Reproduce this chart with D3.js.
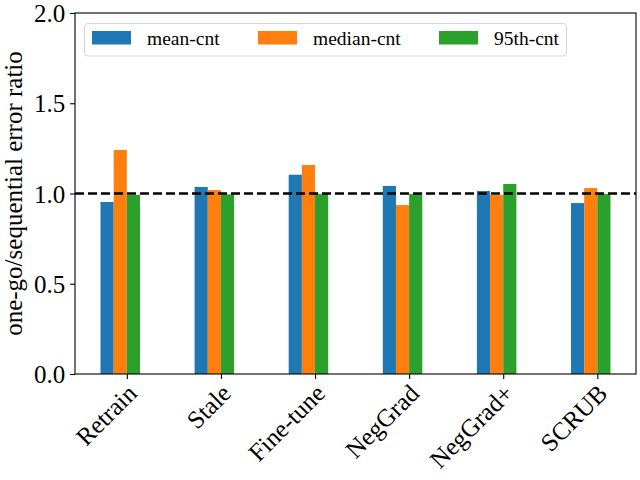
<!DOCTYPE html>
<html>
<head>
<meta charset="utf-8">
<script src="https://cdn.jsdelivr.net/npm/d3@7"></script>
<style>
  body { margin: 0; background: #fff; }
</style>
</head>
<body>
<svg id="chart" width="640" height="480"></svg>
<script>
const methods = ['Retrain', 'Stale', 'Fine-tune', 'NegGrad', 'NegGrad+', 'SCRUB']
const seriesNames = ['mean-cnt', 'median-cnt', '95th-cnt']
const meanCnt = [0.953, 1.036, 1.104, 1.042, 1.014, 0.947]
const medianCnt = [1.241, 1.019, 1.158, 0.936, 0.992, 1.030]
const p95Cnt = [0.992, 0.995, 0.997, 0.997, 1.053, 0.997]
const yTicks = [0, 0.5, 1.0, 1.5, 2.0]
const refLine = 1.0

const colors = ['#1f77b4', '#ff7f0e', '#2ca02c']
const series = [meanCnt, medianCnt, p95Cnt]
const serif = '"Liberation Serif", "Times New Roman", Times, serif'

const plotLeft = 75, plotRight = 636, plotTop = 13, plotBottom = 374
const barW = 0.14

const svg = d3.select('#chart')

const xScale = d3.scaleLinear().domain([-0.551, 5.411]).range([plotLeft, plotRight])
const yScale = d3.scaleLinear().domain([0, 2]).range([plotBottom, plotTop])

// bars: blue at i-2w, orange at i-w, green at i (left edges)
series.forEach((vals, s) => {
    svg.append('g')
        .selectAll('rect')
        .data(vals)
        .enter()
        .append('rect')
        .attr('x', (d, i) => xScale(i + (s - 2) * barW))
        .attr('width', xScale(barW) - xScale(0))
        .attr('y', d => yScale(d))
        .attr('height', d => yScale(0) - yScale(d))
        .style('fill', colors[s])
})

// reference line
svg.append('line')
    .attr('x1', plotLeft).attr('x2', plotRight)
    .attr('y1', yScale(refLine)).attr('y2', yScale(refLine))
    .style('stroke', '#000')
    .style('stroke-width', 2.5)
    .style('stroke-dasharray', '9,4')

// y axis
const yAxis = d3.axisLeft(yScale).tickValues(yTicks).tickFormat(d3.format('.1f'))
    .tickSize(4.9).tickPadding(4.9)
const yg = svg.append('g').attr('transform', 'translate(' + plotLeft + ',0)').call(yAxis)
yg.select('.domain').remove()
yg.selectAll('.tick line').style('stroke', '#000').style('stroke-width', 1.1)
yg.selectAll('.tick text')
    .style('font-size', '25px')
    .style('fill', '#000')
    .attr('dy', '0.34em')

// x axis
const xAxis = d3.axisBottom(xScale).tickValues(d3.range(methods.length))
    .tickFormat(i => methods[i]).tickSize(4.9)
const xg = svg.append('g').attr('transform', 'translate(0,' + plotBottom + ')').call(xAxis)
xg.select('.domain').remove()
xg.selectAll('.tick line').style('stroke', '#000').style('stroke-width', 1.1)
xg.selectAll('.tick text')
    .style('font-size', '25px')
    .style('fill', '#000')
    .attr('text-anchor', 'end')
    .attr('dy', null)
    .attr('y', null)
    .attr('transform', 'translate(11,21) rotate(-45)')

// frame
svg.append('rect')
    .attr('x', plotLeft).attr('y', plotTop)
    .attr('width', plotRight - plotLeft).attr('height', plotBottom - plotTop)
    .style('fill', 'none')
    .style('stroke', '#000')
    .style('stroke-width', 1.1)

// y label
svg.append('text')
    .attr('transform', 'translate(22,' + ((plotTop + plotBottom) / 2) + ') rotate(-90)')
    .attr('text-anchor', 'middle')
    .style('font-size', '25px')
    .text('one-go/sequential error ratio')

// legend
const legend = svg.append('g')
legend.append('rect')
    .attr('x', 84.5).attr('y', 23.5)
    .attr('width', 482).attr('height', 32.5)
    .attr('rx', 4)
    .style('fill', 'rgba(255,255,255,0.8)')
    .style('stroke', '#d5d5d5')
    .style('stroke-width', 1.1)

const legendX = [92, 258, 439]
seriesNames.forEach((name, s) => {
    legend.append('rect')
        .attr('x', legendX[s]).attr('y', 31)
        .attr('width', 39).attr('height', 13.5)
        .style('fill', colors[s])
    legend.append('text')
        .attr('x', legendX[s] + 55).attr('y', 44.5)
        .style('font-size', '19.5px')
        .text(name)
})

svg.selectAll('g').attr('font-family', null)
svg.selectAll('text').style('font-family', serif)
</script>
</body>
</html>
